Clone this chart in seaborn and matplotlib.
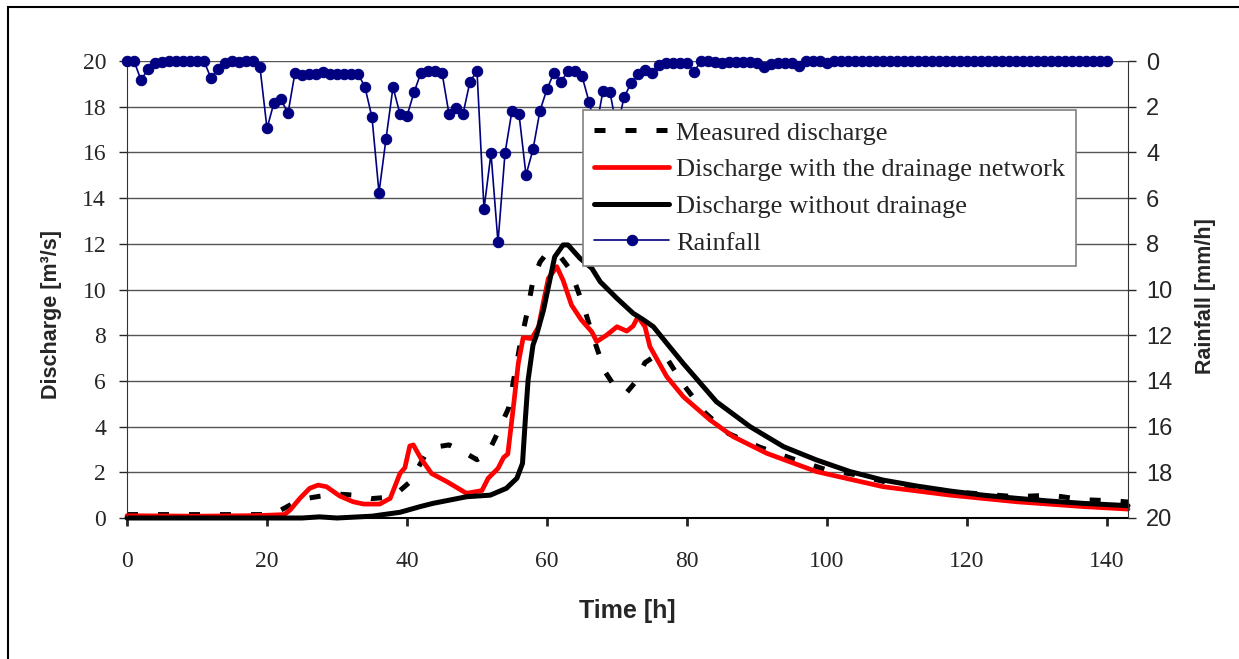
import numpy as np
import seaborn as sns
import matplotlib.pyplot as plt
from matplotlib.patches import Rectangle

# measured discharge [m3/s]
measured_t = [0, 5, 10, 15, 20, 22, 23.5, 25.5, 27.5, 30, 32.5, 35, 37, 39, 40.5, 42.5, 44, 46, 48, 50,
              51.5, 52.6, 54.5, 56.1, 57.1, 58, 59, 60, 61, 62, 63, 64, 65.4, 66.6, 68.3, 70, 71.4, 72.5,
              74, 75.5, 77.1, 79.7, 82.6, 85.9, 90.4, 95, 100, 104, 109.4, 115, 120, 127, 132, 136.6, 141, 143]
measured_q = [0.15, 0.15, 0.15, 0.15, 0.15, 0.35, 0.6, 0.85, 0.95, 1.05, 1.0, 0.85, 0.9, 1.2, 1.6, 2.7, 3.1, 3.2, 2.9, 2.55,
              2.8, 3.5, 4.8, 7.5, 8.9, 10.4, 11.2, 11.6, 11.5, 11.4, 11.0, 10.3, 9.1, 7.9, 6.4, 5.6, 5.5, 5.9,
              6.8, 7.1, 7.0, 5.75, 4.6, 3.7, 3.1, 2.6, 2.1, 1.9, 1.5, 1.25, 1.1, 0.93, 1.0, 0.8, 0.75, 0.7]

# simulated discharge with the drainage network
drain_t = [0, 10, 17, 20, 22.5, 23.3, 24.7, 26.1, 27.3, 28.5, 30.4, 32.3, 33.8, 36.1, 37.6, 39, 39.7, 40.4, 40.9,
           42, 43.5, 45.7, 48.5, 50.7, 51.6, 53, 53.8, 54.4, 55.2, 55.9, 56.6, 57.8, 58.8, 59.5, 60.2, 61.4,
           62.3, 63.5, 64.9, 66.4, 67.1, 68.5, 70, 71.4, 72.3, 73, 74, 74.7, 77.1, 79.5, 83.3, 86.6, 91.4,
           98.5, 108, 117.6, 127.1, 136.6, 143]
drain_q = [0.1, 0.08, 0.1, 0.12, 0.15, 0.35, 0.86, 1.3, 1.44, 1.37, 0.96, 0.71, 0.61, 0.61, 0.86, 1.95, 2.2, 3.15, 3.2,
           2.6, 1.95, 1.59, 1.08, 1.2, 1.74, 2.17, 2.65, 2.8, 4.87, 6.77, 7.9, 7.85, 8.37, 9.47, 10.49, 11.0,
           10.4, 9.32, 8.67, 8.15, 7.72, 8.0, 8.37, 8.18, 8.4, 8.81, 8.37, 7.5, 6.19, 5.3, 4.29, 3.56, 2.83,
           2.03, 1.37, 1.0, 0.71, 0.5, 0.39]

# simulated discharge without drainage
nodrain_t = [0, 25, 27.5, 30, 35, 37.1, 39, 41.9, 43.7, 48.5, 51.9, 54.2, 55.7, 56.5, 56.9, 57.3, 58, 58.5,
             59.5, 60.2, 61.1, 62.3, 63, 64.7, 66.4, 67.6, 70, 72.3, 73.8, 75.2, 77.1, 79.5, 84.2, 89,
             93.8, 98.5, 103.3, 108, 112.8, 117.6, 122.3, 127.1, 131.9, 136.6, 143]
nodrain_q = [0.0, 0.0, 0.05, 0.0, 0.08, 0.17, 0.25, 0.5, 0.64, 0.93, 1.0, 1.3, 1.74, 2.39, 4.29, 6.04, 7.57, 8.0,
             9.1, 10.12, 11.43, 11.95, 11.95, 11.37, 10.93, 10.34, 9.61, 8.96, 8.67, 8.37, 7.65, 6.75, 5.09, 4.0,
             3.12, 2.54, 2.03, 1.66, 1.4, 1.18, 1.0, 0.86, 0.74, 0.64, 0.54]

# hourly rainfall [mm/h], hours 0..140
rain_t = list(range(141))
rain_mm = [0, 0, 0.83, 0.36, 0.1, 0.05, 0, 0, 0, 0, 0, 0, 0.76, 0.36, 0.1, 0, 0.05, 0, 0, 0.28,
           2.95, 1.82, 1.68, 2.29, 0.51, 0.61, 0.55, 0.55, 0.47, 0.55, 0.55, 0.55, 0.55, 0.55, 1.15, 2.47,
           5.76, 3.41, 1.15, 2.32, 2.41, 1.37, 0.51, 0.45, 0.45, 0.51, 2.32, 2.07, 2.32, 0.9, 0.44,
           6.48, 4.04, 7.94, 4.04, 2.17, 2.32, 4.99, 3.87, 2.17, 1.23, 0.51, 0.9, 0.45, 0.45, 0.66,
           1.78, 3.0, 1.3, 1.37, 3.0, 1.59, 0.98, 0.58, 0.39, 0.54, 0.18, 0.07, 0.07, 0.07, 0.07,
           0.47, 0, 0, 0.05, 0.1, 0.05, 0.05, 0.05, 0.05, 0.1, 0.25, 0.12, 0.07, 0.07, 0.07, 0.22,
           0, 0, 0, 0.1] + [0] * 40

labels = ["Measured discharge", "Discharge with the drainage network",
          "Discharge without drainage", "Rainfall"]

sns.set_style("white")

W, H = 1239, 659
fig = plt.figure(figsize=(W / 100, H / 100), dpi=100)
ax = fig.add_axes([127 / W, 1 - 518 / H, (1128 - 127) / W, (518 - 61) / H])
ax2 = ax.twinx()

sns.lineplot(x=measured_t, y=measured_q, ax=ax, color="black", linewidth=3.6,
             linestyle=(0, (2.2, 4.0)), clip_on=False)
sns.lineplot(x=drain_t, y=drain_q, ax=ax, color="#ff0000", linewidth=3.4, clip_on=False)
sns.lineplot(x=nodrain_t, y=nodrain_q, ax=ax, color="black", linewidth=3.6, clip_on=False)
sns.lineplot(x=rain_t, y=rain_mm, ax=ax2, color="#000080", linewidth=1.2, marker="o",
             markersize=7.5, markeredgecolor="#000080", clip_on=False)

ax.set_xlim(0, 143)
ax.set_ylim(0, 20)
ax.set_xticks(range(0, 141, 20))
ax.set_yticks(range(0, 21, 2))
ax2.set_ylim(20, 0)
ax2.set_yticks(range(0, 21, 2))

ax.yaxis.grid(True, color="#555555", linewidth=1)
ax.set_axisbelow(True)

for a in (ax, ax2):
    a.spines["top"].set_visible(False)
ax2.spines["left"].set_visible(False)
ax2.spines["bottom"].set_visible(False)
ax.spines["right"].set_visible(False)
ax.spines["left"].set_color("#333333")
ax.spines["bottom"].set_color("black")
ax.spines["bottom"].set_linewidth(1.5)
ax2.spines["right"].set_color("#333333")

ax.tick_params(axis="y", direction="out", length=6, width=1, pad=9, labelsize=17,
               labelfontfamily="Liberation Serif", left=True)
ax.tick_params(axis="x", direction="out", length=6, width=2, pad=18, labelsize=17,
               labelfontfamily="Liberation Serif", bottom=True)
ax2.tick_params(axis="y", direction="out", length=6, width=1, pad=7, labelsize=17,
                labelfontfamily="Liberation Sans", right=True)

lab = dict(fontsize=15.5, fontweight="bold", family="Liberation Sans")
ax.set_xlabel("Time [h]", fontsize=18, fontweight="bold", family="Liberation Sans")
ax.set_ylabel("Discharge [m³/s]", **lab)
ax2.set_ylabel("Rainfall [mm/h]", **lab)
ax.xaxis.set_label_coords(0.4995, -0.2035)
ax.xaxis.label.set_va("center")
ax.yaxis.set_label_coords(-0.075, 0.446)
ax.yaxis.label.set_va("center")
ax2.yaxis.set_label_coords(1.077, 0.486)
ax2.yaxis.label.set_va("center")

for a in (ax, ax2):
    if a.get_legend() is not None:
        a.get_legend().remove()

handles = list(ax.get_lines()[:3]) + [ax2.get_lines()[0]]
leg = ax2.legend(handles, labels, loc="upper left", bbox_to_anchor=(583 / W, 1 - 110 / H),
                 bbox_transform=fig.transFigure, borderaxespad=0, fancybox=False,
                 edgecolor="#808080", framealpha=1, prop={"family": "Liberation Serif", "size": 19},
                 handlelength=2.85, handletextpad=0.25, labelspacing=0.5, borderpad=0.42)
leg.get_frame().set_linewidth(1.2)

fig.patches.append(Rectangle((8 / W, -0.05), 1.1, 1.05 - 7 / H, transform=fig.transFigure,
                             fill=False, edgecolor="black", linewidth=1.5))

fig.savefig("out.png", dpi=100)
